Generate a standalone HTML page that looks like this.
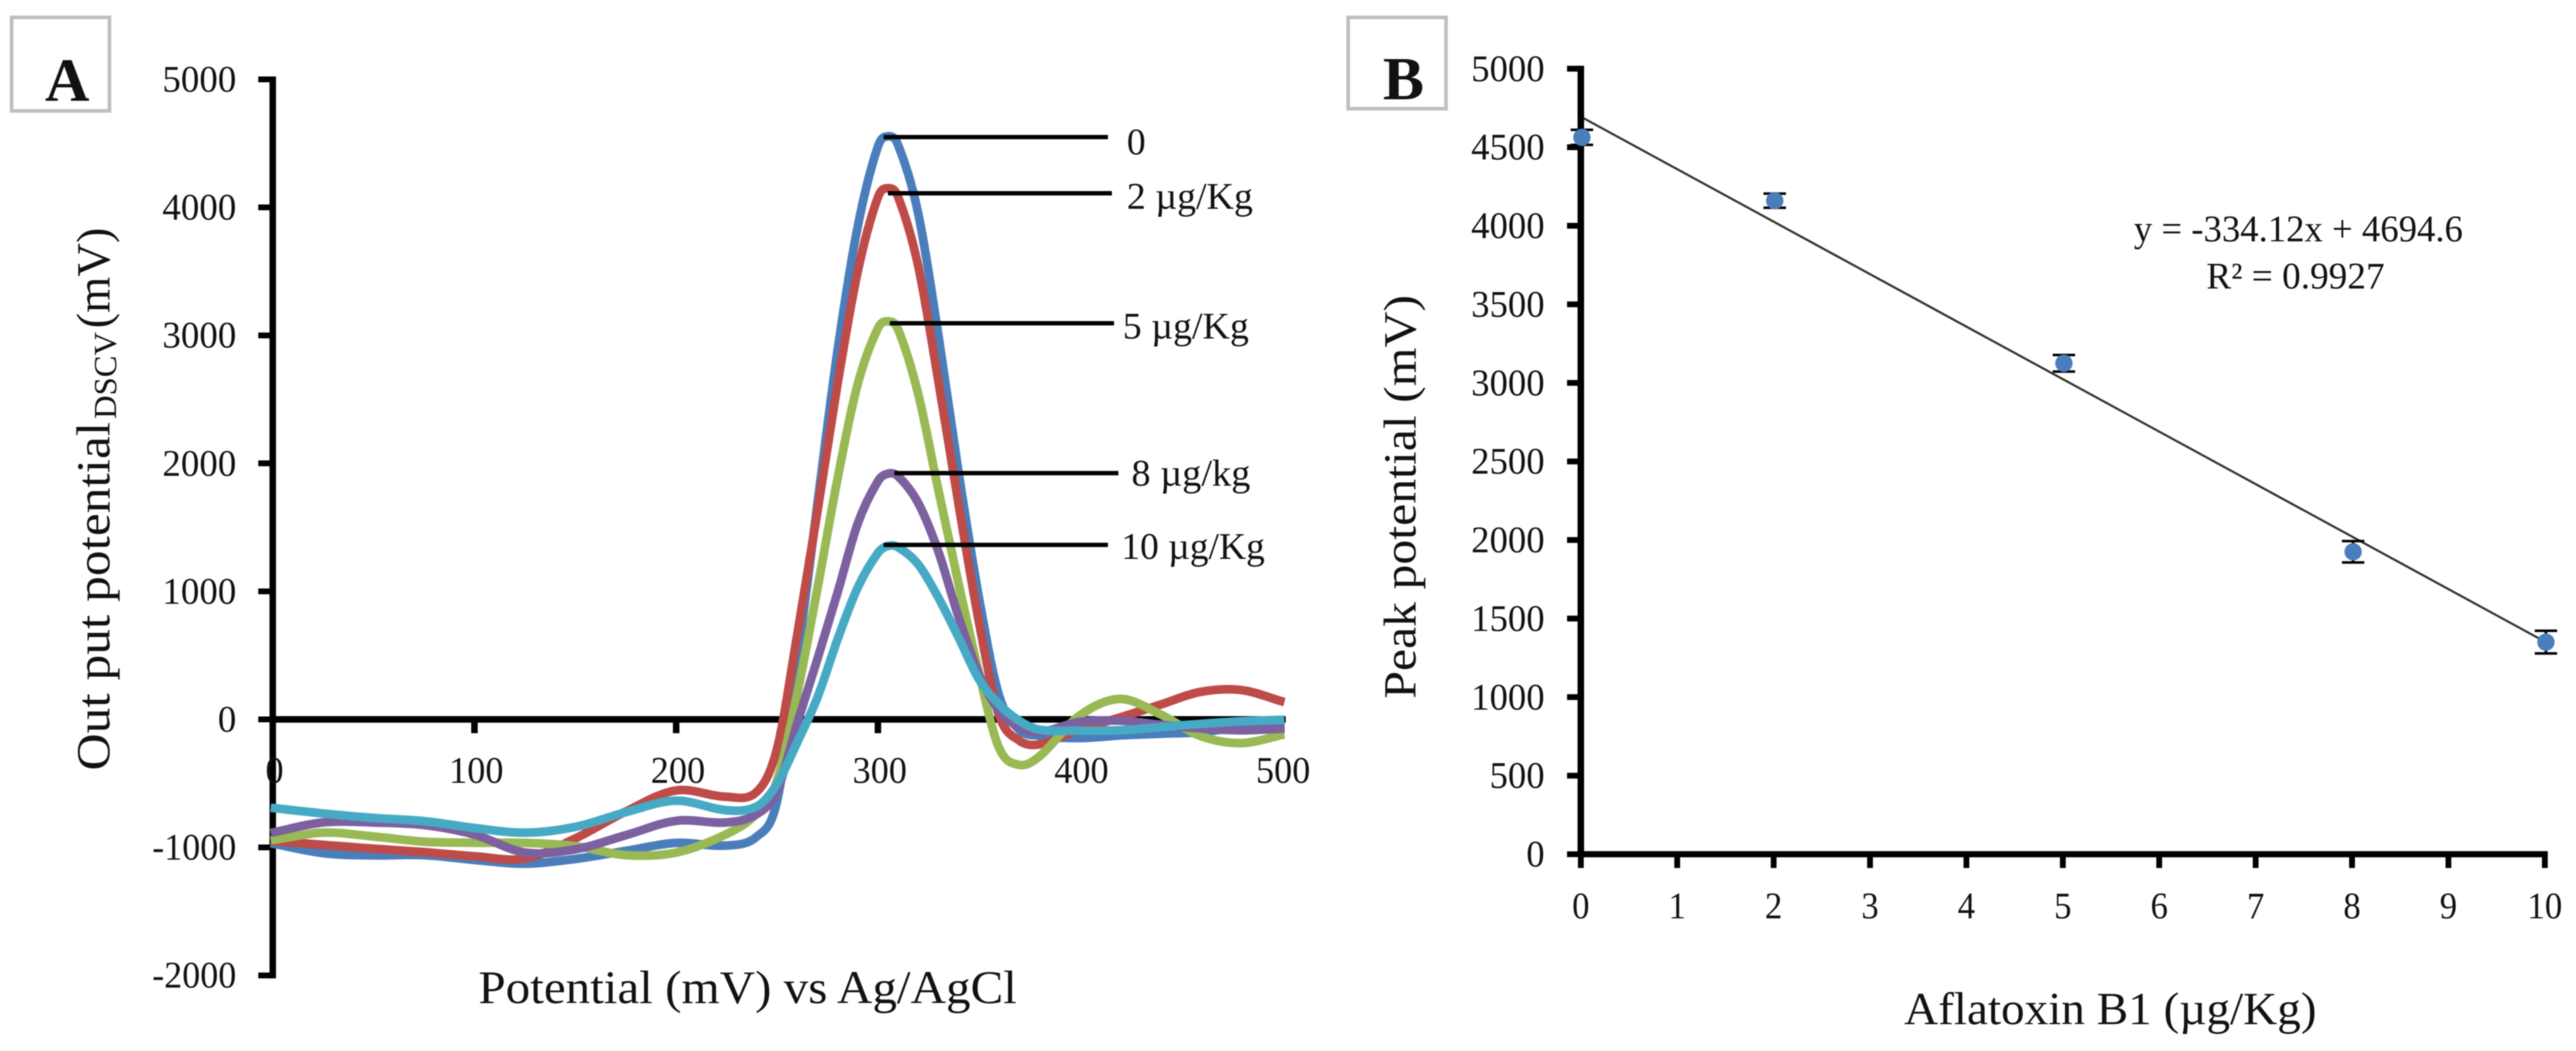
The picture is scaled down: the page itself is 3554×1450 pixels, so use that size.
<!DOCTYPE html>
<html lang="en">
<head>
<meta charset="utf-8">
<title>Aflatoxin B1 DSCV peak potential charts</title>
<style>
html,body{margin:0;padding:0;background:#fff;width:3554px;height:1450px;overflow:hidden}
svg{display:block;filter:blur(0.7px)}
text{font-family:"Liberation Serif",serif;fill:#111}
</style>
</head>
<body>
<svg id="fig" xmlns="http://www.w3.org/2000/svg" width="3554" height="1450" viewBox="0 0 3554 1450">
  <rect x="0" y="0" width="3554" height="1450" fill="#fff"/>

  <g id="panelA">
    <rect x="16" y="24" width="135" height="129" fill="#fff" stroke="#bfbfbf" stroke-width="5"/>
    <text x="62" y="139" font-size="85" font-weight="bold">A</text>
    <g>
      <text transform="translate(151 1063) rotate(-90)" font-size="66" textLength="481" lengthAdjust="spacingAndGlyphs">Out put potential</text>
      <text transform="translate(160 578) rotate(-90)" font-size="44" textLength="120" lengthAdjust="spacingAndGlyphs">DSCV</text>
      <text transform="translate(151 453) rotate(-90)" font-size="66" textLength="139" lengthAdjust="spacingAndGlyphs">(mV)</text>
    </g>
    <text x="660" y="1384" font-size="65" textLength="743" lengthAdjust="spacingAndGlyphs">Potential (mV) vs Ag/AgCl</text>
  </g>

  <g id="panelB">
    <rect x="1860" y="24" width="135" height="126" fill="#fff" stroke="#bfbfbf" stroke-width="5"/>
    <text x="1908" y="137" font-size="85" font-weight="bold">B</text>
    <text transform="translate(1953 964) rotate(-90)" font-size="64" textLength="557" lengthAdjust="spacingAndGlyphs">Peak potential (mV)</text>
    <text x="2627" y="1413" font-size="63" textLength="569" lengthAdjust="spacingAndGlyphs">Aflatoxin B1 (µg/Kg)</text>
    <text x="2944" y="333" font-size="52" textLength="454" lengthAdjust="spacingAndGlyphs">y = -334.12x + 4694.6</text>
    <text x="3044" y="398" font-size="52" textLength="246" lengthAdjust="spacingAndGlyphs">R² = 0.9927</text>
  </g>
</svg>

<script>
/* ---------- Panel A data ---------- */
const potentials = [-1,25,50,75,100,125,150,175,200,225,240,250,260,270,280,290,300,305,310,320,330,340,350,360,370,380,400,420,440,460,480,501.5];
const series0 = [-967,-1045,-1062,-1060,-1098,-1127,-1090,-1027,-965,-985,-915,-640,450,1680,2880,3850,4475,4555,4488,3950,3000,1930,960,190,-80,-127,-146,-125,-112,-100,-60,-35];
const series2 = [-950,-980,-1010,-1037,-1069,-1088,-930,-720,-555,-605,-565,-230,660,1620,2620,3500,4078,4150,4082,3540,2640,1680,770,35,-165,-195,-80,15,115,215,230,135];
const series5 = [-945,-885,-915,-955,-964,-965,-990,-1060,-1040,-895,-735,-480,200,1020,1880,2620,3055,3110,3047,2540,1790,1060,370,-220,-355,-290,30,160,40,-130,-185,-118];
const series8 = [-887,-805,-805,-825,-900,-1040,-1015,-905,-792,-805,-740,-560,-30,470,990,1530,1860,1920,1900,1690,1310,800,360,70,-60,-100,-20,-10,-42,-70,-85,-71];
const series10 = [-690,-735,-770,-795,-848,-885,-840,-725,-635,-710,-680,-505,-180,170,625,1030,1300,1355,1345,1210,950,640,316,120,-10,-80,-88,-85,-60,-35,-15,-3];
const xTicksA = [0,100,200,300,400,500];
const yTicksA = [-2000,-1000,0,1000,2000,3000,4000,5000];
const peakLabels = ["0","2 µg/Kg","5 µg/Kg","8 µg/kg","10 µg/Kg"];

/* ---------- Panel B data ---------- */
const doses = [0,2,5,8,10];
const peakValues = [4563,4160,3125,1925,1350];
const peakErrors = [48,45,53,68,72];
const xTicksB = [0,1,2,3,4,5,6,7,8,9,10];
const yTicksB = [0,500,1000,1500,2000,2500,3000,3500,4000,4500,5000];
const trendSlope = -334.12;
const trendIntercept = 4694.6;

/* ---------- Axis functions ---------- */
function xA(v){return 376.3+2.783*v;}
function yA(v){return 992.5-0.1766*v;}
function xB(v){return 2181+133*v;}
function yB(v){return 1178.5-0.21674*v;}

const NS = "http://www.w3.org/2000/svg";
function make(parent,tag,props){
  const el=document.createElementNS(NS,tag);
  for(const k in props){el.setAttribute(k,props[k]);}
  parent.appendChild(el);
  return el;
}
function splinePath(xs,ys,fx,fy){
  const n=xs.length,m=[];
  for(let i=0;i<n;i++){
    const a=Math.max(i-1,0),b=Math.min(i+1,n-1);
    m.push((ys[b]-ys[a])/(xs[b]-xs[a]));
  }
  let d="M"+fx(xs[0]).toFixed(1)+" "+fy(ys[0]).toFixed(1);
  for(let i=0;i<n-1;i++){
    const dx=xs[i+1]-xs[i];
    d+=" C"+fx(xs[i]+dx/3).toFixed(1)+" "+fy(ys[i]+m[i]*dx/3).toFixed(1)+" "+
        fx(xs[i+1]-dx/3).toFixed(1)+" "+fy(ys[i+1]-m[i+1]*dx/3).toFixed(1)+" "+
        fx(xs[i+1]).toFixed(1)+" "+fy(ys[i+1]).toFixed(1);
  }
  return d;
}

/* ---------- Panel A drawing ---------- */
const panelA=document.getElementById("panelA");
const axisAY=make(panelA,"line",{x1:xA(0),x2:xA(0),y1:yA(5000)-4,y2:yA(-2000)+4,stroke:"#000","stroke-width":9});


const axisAX=make(panelA,"line",{x1:xA(0),x2:xA(500)+6,y1:yA(0),y2:yA(0),stroke:"#000","stroke-width":9});



yTicksA.forEach(function(t){
  const tick=make(panelA,"line",{x1:xA(0)-20,x2:xA(0),y1:yA(t),y2:yA(t),stroke:"#000","stroke-width":8});
  
  
  const s=String(t);
  const digits=s.replace("-","").length;
  const label=make(panelA,"text",{x:326,y:yA(t)+17,"font-size":52,"text-anchor":"end",textLength:(digits*25.5+(t<0?14:0)),lengthAdjust:"spacingAndGlyphs"});
  label.textContent=s;
  
  
});
xTicksA.forEach(function(t){
  if(t>0){
    const tick=make(panelA,"line",{x1:xA(t),x2:xA(t),y1:yA(0),y2:yA(0)+19,stroke:"#000","stroke-width":9});
    
    
  }
  const s=String(t);
  const label=make(panelA,"text",{x:xA(t)+2.5,y:1080,"font-size":52,"text-anchor":"middle",textLength:s.length*25,lengthAdjust:"spacingAndGlyphs"});
  label.textContent=s;
  
  
});

const curveBlue=make(panelA,"path",{d:splinePath(potentials,series0,xA,yA),fill:"none",stroke:"#4a7ebb","stroke-width":12,"stroke-linejoin":"round"});


const curveRed=make(panelA,"path",{d:splinePath(potentials,series2,xA,yA),fill:"none",stroke:"#be4b48","stroke-width":12,"stroke-linejoin":"round"});


const curveGreen=make(panelA,"path",{d:splinePath(potentials,series5,xA,yA),fill:"none",stroke:"#98b954","stroke-width":12,"stroke-linejoin":"round"});


const curvePurple=make(panelA,"path",{d:splinePath(potentials,series8,xA,yA),fill:"none",stroke:"#7d60a0","stroke-width":12,"stroke-linejoin":"round"});


const curveCyan=make(panelA,"path",{d:splinePath(potentials,series10,xA,yA),fill:"none",stroke:"#46aac5","stroke-width":12,"stroke-linejoin":"round"});



const leaderX1=[1219,1225,1227.7,1234,1219];
const leaderX2=[1528.6,1534,1537,1543,1528.6];
const leaderDy=[1,7,2.7,-0.7,-1.5];
const labelX=[1554.6,1554.6,1549,1561,1547];
const labelW=[26,174,174,164,198];
const labelDy=[24,21.5,21,17.3,19.3];
[series0,series2,series5,series8,series10].forEach(function(arr,i){
  const peak=Math.max.apply(null,arr);
  const ly=yA(peak)+leaderDy[i];
  const leader=make(panelA,"line",{x1:leaderX1[i],x2:leaderX2[i],y1:ly,y2:ly,stroke:"#000","stroke-width":6});
  
  
  const label=make(panelA,"text",{x:labelX[i],y:ly+labelDy[i],"font-size":52,textLength:labelW[i],lengthAdjust:"spacingAndGlyphs"});
  label.textContent=peakLabels[i];
  
  
});

/* ---------- Panel B drawing ---------- */
const panelB=document.getElementById("panelB");
const axisBY=make(panelB,"line",{x1:xB(0),x2:xB(0),y1:yB(5000)-4,y2:yB(0)+4,stroke:"#000","stroke-width":9});


const axisBX=make(panelB,"line",{x1:xB(0),x2:xB(10)+4,y1:yB(0),y2:yB(0),stroke:"#000","stroke-width":8.5});



yTicksB.forEach(function(t){
  const tick=make(panelB,"line",{x1:xB(0)-19,x2:xB(0),y1:yB(t),y2:yB(t),stroke:"#000","stroke-width":8});
  
  
  const s=String(t);
  const label=make(panelB,"text",{x:2131,y:yB(t)+17,"font-size":52,"text-anchor":"end",textLength:s.length*25.3,lengthAdjust:"spacingAndGlyphs"});
  label.textContent=s;
  
  
});
xTicksB.forEach(function(t){
  const tick=make(panelB,"line",{x1:xB(t),x2:xB(t),y1:yB(0),y2:yB(0)+19,stroke:"#000","stroke-width":8});
  
  
  const s=String(t);
  const label=make(panelB,"text",{x:xB(t),y:1267,"font-size":52,"text-anchor":"middle",textLength:s.length*24,lengthAdjust:"spacingAndGlyphs"});
  label.textContent=s;
  
  
});

const trend=make(panelB,"line",{x1:xB(0.03),y1:yB(trendSlope*0.03+trendIntercept),x2:xB(10),y2:yB(trendSlope*10+trendIntercept),stroke:"#333","stroke-width":3});



doses.forEach(function(x,i){
  const cx=xB(x)+1.5,hi=yB(peakValues[i]+peakErrors[i]),lo=yB(peakValues[i]-peakErrors[i]);
  const err=make(panelB,"path",{d:"M"+(cx-15.5)+" "+hi+"H"+(cx+15.5)+"M"+cx+" "+hi+"V"+lo+"M"+(cx-15.5)+" "+lo+"H"+(cx+15.5),fill:"none",stroke:"#000","stroke-width":3.5});
  
  
  const dot=make(panelB,"circle",{cx:cx,cy:yB(peakValues[i]),r:12,fill:"#4a7ebb"});
  
  
});
</script>
</body>
</html>
